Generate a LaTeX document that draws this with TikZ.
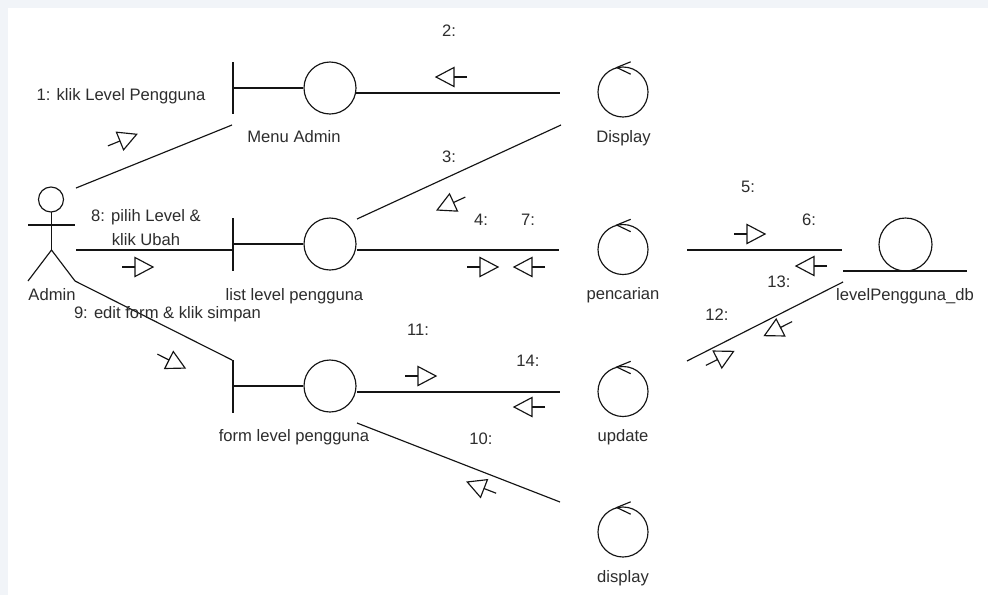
\documentclass[tikz,border=0pt]{standalone}
\usepackage{fontspec}
\setmainfont{Liberation Sans}
\definecolor{bgband}{RGB}{241,244,248}
\definecolor{ink}{RGB}{20,20,20}
\definecolor{txt}{RGB}{45,45,45}
\tikzset{
  ln/.style={draw=ink, line width=1.15pt},
  lbl/.style={anchor=base, inner sep=0pt, text=txt, font=\fontsize{16.6}{20}\selectfont},
  bcirc/.style={ln, circle, minimum size=52pt, inner sep=0pt},
  ccirc/.style={ln, circle, minimum size=50pt, inner sep=0pt},
  msgarrow/.pic={
    \draw[ln] (-13,0) -- (0,0);
    \draw[ln, line join=miter] (0,-9.5) -- (18,0) -- (0,9.5) -- cycle;
  },
  ctrlarrow/.pic={
    \draw[ln] (7.7,-30.2) -- (-6.3,-24.5) -- (7.7,-17.8);
  }
}
\begin{document}
\begin{tikzpicture}[x=1pt,y=-1pt]
\useasboundingbox (0,0) rectangle (988,595);
\fill[bgband] (0,0) rectangle (988,595);
\fill[white] (8,8) rectangle (988,595);

% ---- Actor
\node[ln, circle, minimum size=25pt, inner sep=0pt] (head) at (51,199.5) {};
\coordinate (neck) at (51.5,212);
\coordinate (hip) at (51.5,250);
\coordinate (armL) at (28,225);
\coordinate (armR) at (75,225);
\coordinate (legL) at (28,281);
\coordinate (legR) at (75,281);
\draw[ln] (neck) -- (hip);
\draw[ln] (armL) -- (armR);
\draw[ln] (legL) -- (hip) -- (legR);
\node[lbl] (admin) at (52,300) {Admin};

% ---- Boundaries
\node[bcirc] (menu) at (330,88) {};
\coordinate (menuT) at (233,62); \coordinate (menuB) at (233,114); \coordinate (menuM) at (233,88);
\draw[ln] (menuT) -- (menuB);
\draw[ln] (menuM) -- (menu.west);
\node[lbl] (menulbl) at (294,142.5) {Menu Admin};

\node[bcirc] (list) at (330,244) {};
\coordinate (listT) at (233,218); \coordinate (listB) at (233,271); \coordinate (listM) at (233,244);
\draw[ln] (listT) -- (listB);
\draw[ln] (listM) -- (list.west);
\node[lbl] (listlbl) at (294.5,300) {list level pengguna};

\node[bcirc] (form) at (330,386) {};
\coordinate (formT) at (233,360); \coordinate (formB) at (233,413); \coordinate (formM) at (233,386);
\draw[ln] (formT) -- (formB);
\draw[ln] (formM) -- (form.west);
\node[lbl] (formlbl) at (294,441) {form level pengguna};

% ---- Controls
\node[ccirc] (disp1) at (623,92) {};
\pic at (disp1.center) {ctrlarrow};
\node[lbl] (disp1lbl) at (623.5,142.5) {Display};

\node[ccirc] (penc) at (623,249.5) {};
\pic at (penc.center) {ctrlarrow};
\node[lbl] (penclbl) at (623,299.5) {pencarian};

\node[ccirc] (upd) at (623,391.5) {};
\pic at (upd.center) {ctrlarrow};
\node[lbl] (updlbl) at (623,441) {update};

\node[ccirc] (disp2) at (623,532) {};
\pic at (disp2.center) {ctrlarrow};
\node[lbl] (disp2lbl) at (623,582) {display};

% ---- Entity
\node[ln, circle, minimum size=53pt, inner sep=0pt] (db) at (905.5,244.5) {};
\coordinate (dbL) at (843,271); \coordinate (dbR) at (967,271);
\draw[ln] (dbL) -- (dbR);
\node[lbl] (dblbl) at (905,300) {levelPengguna\_db};

% ---- Links
\coordinate (a1s) at (76,188);  \coordinate (a1e) at (232,125);
\draw[ln] (a1s) -- (a1e);
\coordinate (a2s) at (356,93);  \coordinate (a2e) at (560,93);
\draw[ln] (a2s) -- (a2e);
\coordinate (a3s) at (357,219); \coordinate (a3e) at (561,125);
\draw[ln] (a3s) -- (a3e);
\coordinate (a8s) at (76,250);  \coordinate (a8e) at (233,250);
\draw[ln] (a8s) -- (a8e);
\coordinate (a4s) at (357,250); \coordinate (a4e) at (559,250);
\draw[ln] (a4s) -- (a4e);
\coordinate (a5s) at (687,250); \coordinate (a5e) at (842,250);
\draw[ln] (a5s) -- (a5e);
\coordinate (a12s) at (687,361); \coordinate (a12e) at (843,282);
\draw[ln] (a12s) -- (a12e);
\coordinate (a9s) at (75,281);  \coordinate (a9e) at (232,360);
\draw[ln] (a9s) -- (a9e);
\coordinate (a11s) at (357,392); \coordinate (a11e) at (560,392);
\draw[ln] (a11s) -- (a11e);
\coordinate (a10s) at (357,423); \coordinate (a10e) at (560,502);
\draw[ln] (a10s) -- (a10e);

% ---- Message arrows
\pic[rotate=22] at (120,141) {msgarrow};
\pic[rotate=180] at (454,77) {msgarrow};
\pic[rotate=204.7] at (453.5,202.5) {msgarrow};
\pic at (135,267) {msgarrow};
\pic at (480,267) {msgarrow};
\pic[rotate=180] at (532,267) {msgarrow};
\pic at (747,234) {msgarrow};
\pic[rotate=180] at (814,266) {msgarrow};
\pic[rotate=206.9] at (780.5,327.5) {msgarrow};
\pic[rotate=26.9] at (717.5,359.5) {msgarrow};
\pic[rotate=-26.7] at (169,360) {msgarrow};
\pic at (418,376) {msgarrow};
\pic[rotate=180] at (532,407) {msgarrow};
\pic[rotate=158.7] at (484,488.5) {msgarrow};

% ---- Message labels
\node[lbl] (m1) at (121,100) {1: klik Level Pengguna};
\node[lbl] (m2) at (449,36.5) {2:};
\node[lbl] (m3) at (449,162) {3:};
\node[lbl] (m8a) at (146,221.5) {8: pilih Level \&};
\node[lbl] (m8b) at (146,245) {klik Ubah};
\node[lbl] (m9) at (167.5,318) {9: edit form \& klik simpan};
\node[lbl] (m4) at (481,225) {4:};
\node[lbl] (m7) at (528,225) {7:};
\node[lbl] (m5) at (748,192.5) {5:};
\node[lbl] (m6) at (809,225) {6:};
\node[lbl] (m13) at (779,287) {13:};
\node[lbl] (m12) at (717,320) {12:};
\node[lbl] (m11) at (418,335) {11:};
\node[lbl] (m14) at (528,366) {14:};
\node[lbl] (m10) at (481,444) {10:};
\end{tikzpicture}
\end{document}
